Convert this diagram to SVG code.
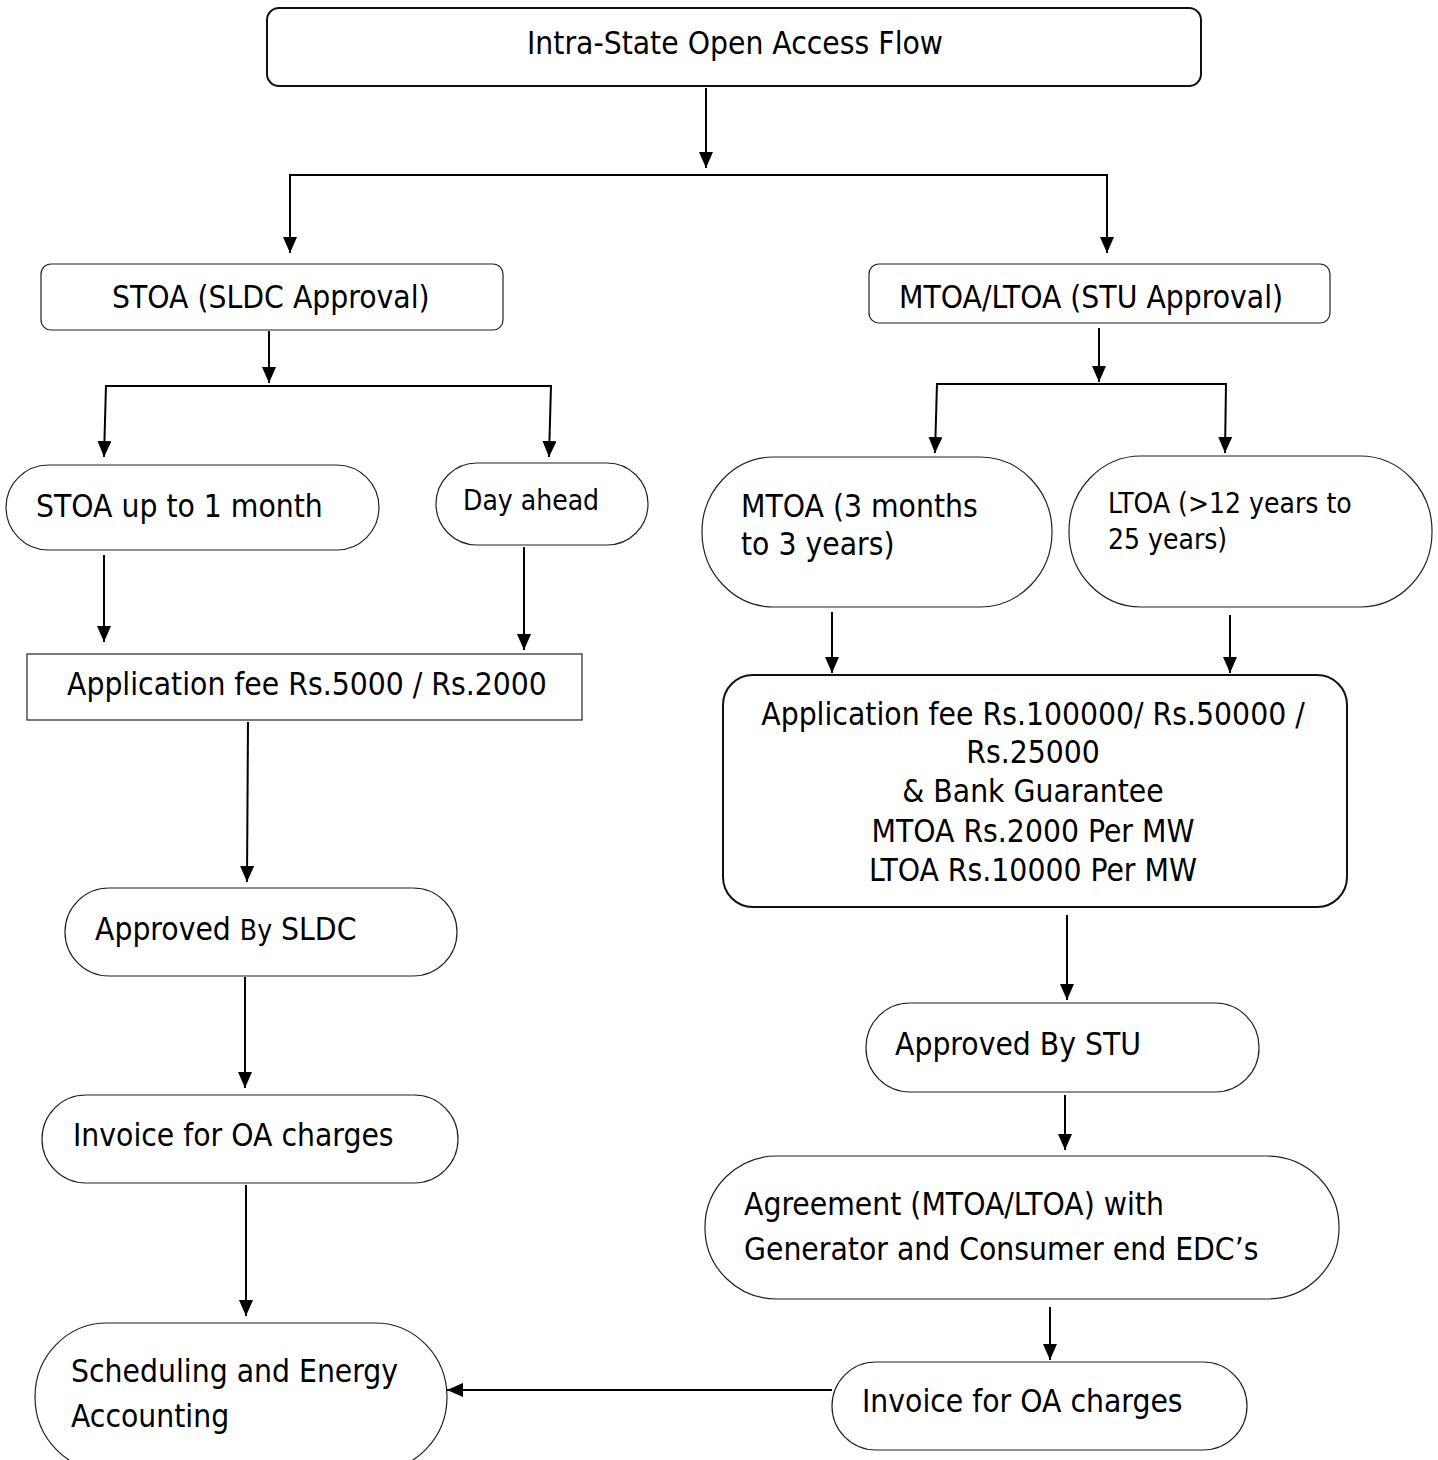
<svg xmlns="http://www.w3.org/2000/svg" width="1438" height="1460" viewBox="0 0 1438 1460">
<defs>
<marker id="ah" viewBox="0 0 16 14" refX="16" refY="7" markerWidth="16" markerHeight="14" markerUnits="userSpaceOnUse" orient="auto">
<path d="M0,0 L16,7 L0,14 z" fill="#000"/>
</marker>
<style>
.n{fill:#fff;stroke:#222;stroke-width:1.2}
.b{fill:#fff;stroke:#111;stroke-width:2}
.t{font-family:"DejaVu Sans Condensed","DejaVu Sans",sans-serif;font-size:31.5px;fill:#000}
.s{font-size:28px}
.c{text-anchor:middle}
.e{fill:none;stroke:#000;stroke-width:2}
.a{fill:none;stroke:#000;stroke-width:2;marker-end:url(#ah)}
</style>
</defs>
<rect width="1438" height="1460" fill="#fff"/>
<g id="connectors">
<line class="a" x1="706" y1="88" x2="706" y2="168"/>
<line class="e" x1="290" y1="175" x2="1107" y2="175"/>
<line class="a" x1="290" y1="174" x2="290" y2="253"/>
<line class="a" x1="1107" y1="174" x2="1107" y2="253"/>
<line class="a" x1="269" y1="331" x2="269" y2="383"/>
<line class="e" x1="106" y1="386" x2="551" y2="386"/>
<line class="a" x1="106" y1="385" x2="104" y2="457"/>
<line class="a" x1="551" y1="385" x2="549" y2="457"/>
<line class="a" x1="1099" y1="328" x2="1099" y2="382"/>
<line class="e" x1="937" y1="384" x2="1226" y2="384"/>
<line class="a" x1="937" y1="383" x2="935" y2="453"/>
<line class="a" x1="1226" y1="383" x2="1225" y2="453"/>
<line class="a" x1="104" y1="555" x2="104" y2="642"/>
<line class="a" x1="524" y1="547" x2="524" y2="650"/>
<line class="a" x1="248" y1="722" x2="247" y2="882"/>
<line class="a" x1="245" y1="977" x2="245" y2="1088"/>
<line class="a" x1="246" y1="1185" x2="246" y2="1316"/>
<line class="a" x1="832" y1="612" x2="832" y2="673"/>
<line class="a" x1="1230" y1="615" x2="1230" y2="673"/>
<line class="a" x1="1067" y1="915" x2="1067" y2="1000"/>
<line class="a" x1="1065" y1="1095" x2="1065" y2="1150"/>
<line class="a" x1="1050" y1="1307" x2="1050" y2="1360"/>
<line class="a" x1="832" y1="1390" x2="447" y2="1390"/>
</g>
<g id="n-title">
<rect class="b" x="267" y="8" width="934" height="78" rx="12"/>
<text class="t" x="527" y="54">Intra-State Open Access Flow</text>
</g>
<g id="n-stoa">
<rect class="n" x="41" y="264" width="462" height="66" rx="10"/>
<text class="t" x="112" y="308">STOA (SLDC Approval)</text>
</g>
<g id="n-mtoaltoa">
<rect class="n" x="869" y="264" width="461" height="59" rx="10"/>
<text class="t" x="899" y="308">MTOA/LTOA (STU Approval)</text>
</g>
<g id="n-stoa1m">
<rect class="n" x="6" y="465" width="373" height="85" rx="42.5"/>
<text class="t" x="36" y="517">STOA up to 1 month</text>
</g>
<g id="n-dayahead">
<rect class="n" x="436" y="463" width="212" height="82" rx="41"/>
<text class="t s" x="463" y="510">Day ahead</text>
</g>
<g id="n-mtoa">
<rect class="n" x="702" y="457" width="350" height="150" rx="72" ry="75"/>
<text class="t" x="741" y="517">MTOA (3 months</text>
<text class="t" x="741" y="555">to 3 years)</text>
</g>
<g id="n-ltoa">
<rect class="n" x="1069" y="456" width="363" height="151" rx="72" ry="75"/>
<text class="t s" x="1108" y="513">LTOA (&gt;12 years to</text>
<text class="t s" x="1108" y="549">25 years)</text>
</g>
<g id="n-feeleft">
<rect class="n" x="27" y="654" width="555" height="66"/>
<text class="t" x="67" y="695">Application fee Rs.5000 / Rs.2000</text>
</g>
<g id="n-feeright">
<rect class="b" x="723" y="675" width="624" height="232" rx="30"/>
<text class="t c" x="1033" y="725">Application fee Rs.100000/ Rs.50000 /</text>
<text class="t c" x="1033" y="763">Rs.25000</text>
<text class="t c" x="1033" y="802">&amp; Bank Guarantee</text>
<text class="t c" x="1033" y="842">MTOA Rs.2000 Per MW</text>
<text class="t c" x="1033" y="881">LTOA Rs.10000 Per MW</text>
</g>
<g id="n-approvedsldc">
<rect class="n" x="65" y="888" width="392" height="88" rx="44"/>
<text class="t" x="95" y="940">Approved <tspan class="s">By</tspan> SLDC</text>
</g>
<g id="n-invoiceleft">
<rect class="n" x="42" y="1095" width="416" height="88" rx="44"/>
<text class="t" x="73" y="1146">Invoice for OA charges</text>
</g>
<g id="n-scheduling">
<rect class="n" x="35" y="1323" width="412" height="148" rx="72" ry="74"/>
<text class="t" x="71" y="1382">Scheduling and Energy</text>
<text class="t" x="71" y="1427">Accounting</text>
</g>
<g id="n-approvedstu">
<rect class="n" x="866" y="1003" width="393" height="89" rx="44"/>
<text class="t" x="895" y="1055">Approved By STU</text>
</g>
<g id="n-agreement">
<rect class="n" x="705" y="1156" width="634" height="143" rx="72" ry="71"/>
<text class="t" x="744" y="1215">Agreement (MTOA/LTOA) with</text>
<text class="t" x="744" y="1260">Generator and Consumer end EDC’s</text>
</g>
<g id="n-invoiceright">
<rect class="n" x="832" y="1362" width="415" height="88" rx="44"/>
<text class="t" x="862" y="1412">Invoice for OA charges</text>
</g>
</svg>
